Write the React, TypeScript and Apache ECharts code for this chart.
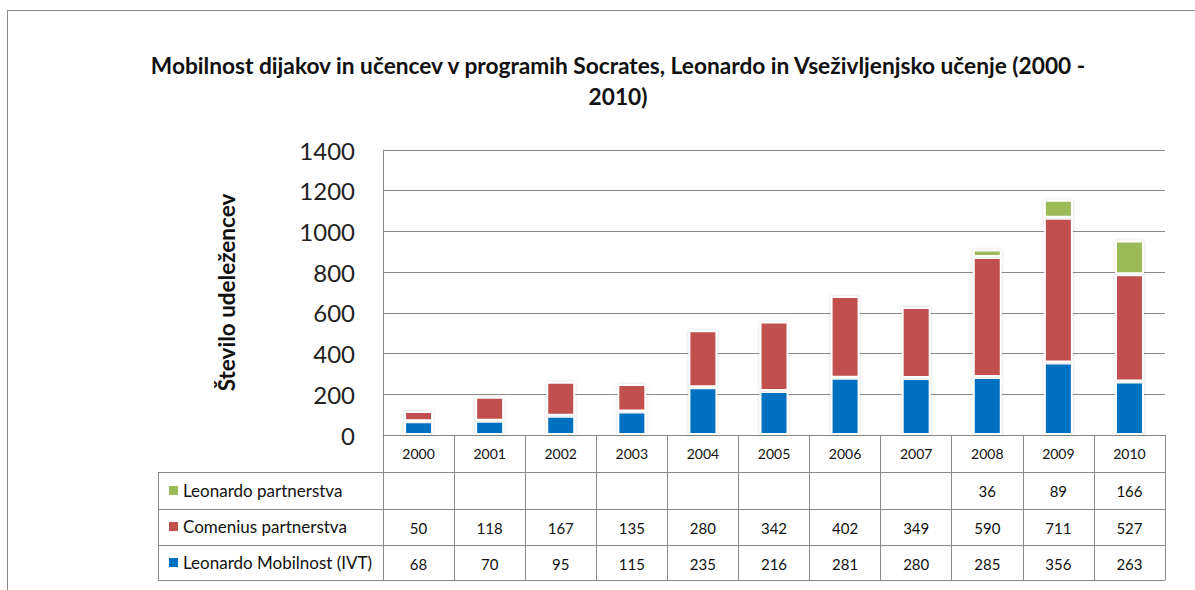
import React, { useEffect, useRef } from "react";
import * as echarts from "echarts";

const years = ["2000", "2001", "2002", "2003", "2004", "2005", "2006", "2007", "2008", "2009", "2010"];
const leonardoMobilnost = [68, 70, 95, 115, 235, 216, 281, 280, 285, 356, 263];
const comeniusPartnerstva = [50, 118, 167, 135, 280, 342, 402, 349, 590, 711, 527];
const leonardoPartnerstva: (number | null)[] = [null, null, null, null, null, null, null, null, 36, 89, 166];
const seriesNames = ["Leonardo partnerstva", "Comenius partnerstva", "Leonardo Mobilnost (IVT)"];
const yTicks = { min: 0, max: 1400, interval: 200 };

const FONT = "Lato, 'Liberation Sans', sans-serif";
const LINE = "#8a8a8a";

export default function App() {
  const ref = useRef<HTMLDivElement>(null);
  useEffect(() => {
    if (!ref.current) return;
    const chart = echarts.init(ref.current, undefined, { renderer: "svg" });

    const tableRow = (vals: (number | null)[] | null, offset: number, tickLen: number, showTick: boolean, showLabel: boolean, margin: number, fontSize: number) => ({
      type: "category",
      data: years,
      position: "bottom",
      offset,
      gridIndex: 0,
      axisLine: { show: true, lineStyle: { color: LINE, width: 1 } },
      axisTick: { show: showTick, interval: 0, length: tickLen, lineStyle: { color: LINE, width: 1 } },
      axisLabel: {
        show: showLabel,
        interval: 0,
        margin,
        fontSize,
        fontFamily: FONT,
        color: "#111",
        formatter: (v: string, i: number) => (vals ? (vals[i] == null ? "" : String(vals[i])) : v),
      },
      splitLine: { show: false },
    });

    const barStyle = (color: string) => ({
      color,
      borderColor: "#ffffff",
      borderWidth: 2,
      shadowBlur: 3,
      shadowColor: "rgba(0,0,0,0.18)",
    });

    const hline = (x1: number, x2: number, y: number) => ({
      type: "line",
      shape: { x1, y1: y, x2, y2: y },
      style: { stroke: LINE, lineWidth: 1 },
      silent: true,
    });
    const vline = (x: number, y1: number, y2: number) => ({
      type: "line",
      shape: { x1: x, y1, x2: x, y2 },
      style: { stroke: LINE, lineWidth: 1 },
      silent: true,
    });

    chart.setOption({
      animation: false,
      backgroundColor: "#ffffff",
      title: {
        text: "Mobilnost dijakov in učencev v programih Socrates, Leonardo in Vseživljenjsko učenje (2000 -\n2010)",
        left: 613,
        top: 45,
        textAlign: "center",
        textStyle: { fontFamily: FONT, fontSize: 22.7, fontWeight: "bold", color: "#111", lineHeight: 31 },
      },
      legend: {
        orient: "vertical",
        left: 164,
        top: 477,
        itemWidth: 9,
        itemHeight: 9,
        itemGap: 19,
        icon: "rect",
        data: seriesNames,
        itemStyle: { borderWidth: 0, shadowBlur: 0 },
        textStyle: { fontFamily: FONT, fontSize: 17, color: "#111" },
      },
      grid: { left: 383, right: 30, top: 150, bottom: 155, containLabel: false },
      yAxis: {
        type: "value",
        min: yTicks.min,
        max: yTicks.max,
        interval: yTicks.interval,
        name: "Število udeležencev",
        nameLocation: "middle",
        nameGap: 145,
        nameRotate: 90,
        nameTextStyle: { fontFamily: FONT, fontSize: 22.5, fontWeight: "bold", color: "#111" },
        axisLine: { show: true, lineStyle: { color: LINE, width: 1 } },
        axisTick: { show: false },
        axisLabel: { margin: 28, fontSize: 24, fontFamily: FONT, color: "#222", formatter: (v: number) => String(v) },
        splitLine: { show: true, lineStyle: { color: LINE, width: 1 } },
      },
      xAxis: [
        tableRow(null, 0, 37, true, true, 11, 14),
        tableRow(leonardoPartnerstva, 37, 37, true, true, 11, 15),
        tableRow(comeniusPartnerstva, 74, 36, true, true, 11, 15),
        tableRow(leonardoMobilnost, 110, 35, true, true, 11, 15),
        tableRow(null, 145, 0, false, false, 0, 13),
      ],
      series: [
        {
          name: seriesNames[2],
          type: "bar",
          stack: "total",
          xAxisIndex: 0,
          barWidth: 29,
          data: leonardoMobilnost,
          itemStyle: barStyle("#0070C0"),
        },
        {
          name: seriesNames[1],
          type: "bar",
          stack: "total",
          xAxisIndex: 0,
          barWidth: 29,
          data: comeniusPartnerstva,
          itemStyle: barStyle("#C0504D"),
        },
        {
          name: seriesNames[0],
          type: "bar",
          stack: "total",
          xAxisIndex: 0,
          barWidth: 29,
          data: leonardoPartnerstva,
          itemStyle: barStyle("#9BBB59"),
        },
      ],
      graphic: [
        hline(7, 1200, 10.5),
        vline(7.5, 10, 600),
        hline(158, 383, 472.5),
        hline(158, 383, 509.5),
        hline(158, 383, 545.5),
        hline(158, 383, 580.5),
        vline(158.5, 472, 581),
      ],
    });
    return () => chart.dispose();
  }, []);
  return <div ref={ref} style={{ position: "fixed", left: 0, top: 0, width: 1195, height: 590 }} />;
}
